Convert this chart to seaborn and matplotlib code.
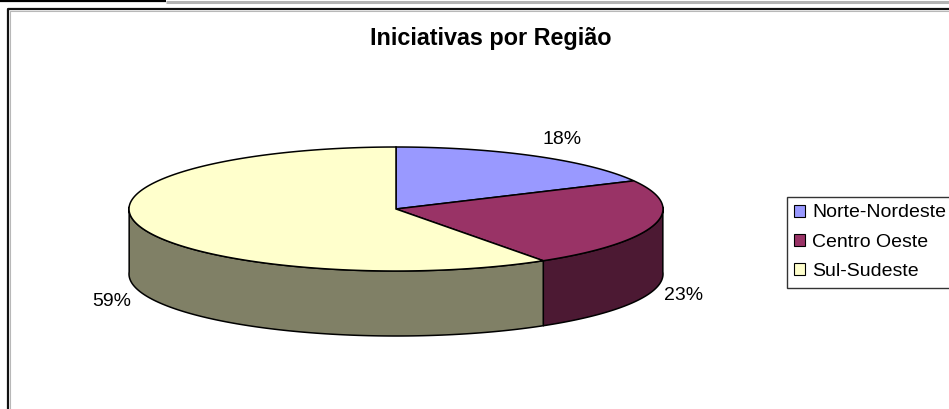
import numpy as np
import pandas as pd
import matplotlib
matplotlib.use("Agg")
import matplotlib.pyplot as plt
from matplotlib.patches import Patch
import seaborn as sns

regions = ["Norte-Nordeste", "Centro Oeste", "Sul-Sudeste"]
shares = [18, 23, 59]
top_colors = ["#9999FF", "#993366", "#FFFFCC"]
side_colors = ["#4C4C80", "#4C1933", "#808066"]

df = pd.DataFrame({"region": regions, "share": shares})

sns.set_theme(style="white")
plt.rcParams["font.family"] = ["Liberation Sans", "DejaVu Sans"]

fig = plt.figure(figsize=(9.49, 4.09), dpi=100)
ax = fig.add_axes([0, 0, 1, 1])
ax.set_xlim(0, 949)
ax.set_ylim(409, 0)
ax.axis("off")

# pie geometry in pixels
cx, cy = 396, 209
rx, ry = 267, 62
depth = 65


def ellipse(a):
    # a is clockwise from 12 o'clock, small skew for the 3d view
    a = a - 0.035 * np.sin(a)
    return cx + rx * np.sin(a), cy - ry * np.cos(a)


edges = np.deg2rad(np.cumsum([0] + list(df["share"])) * 3.6)

# side walls, only the front half of the rim shows
for i in range(len(df)):
    lo, hi = max(edges[i], np.pi / 2), min(edges[i + 1], np.pi * 1.5)
    if lo >= hi:
        continue
    a = np.linspace(lo, hi, 120)
    x, y = ellipse(a)
    ax.fill(np.r_[x, x[::-1]], np.r_[y, y[::-1] + depth],
            facecolor=side_colors[i], edgecolor="black", lw=1.1, zorder=2)

# top faces
for i in range(len(df)):
    a = np.linspace(edges[i], edges[i + 1], 200)
    x, y = ellipse(a)
    ax.fill(np.r_[cx, x], np.r_[cy, y],
            facecolor=top_colors[i], edgecolor="black", lw=1.1, zorder=3)

ax.text(490.5, 39, "Iniciativas por Região", ha="center", va="center",
        fontsize=16.8, fontweight="bold", color="black")

label_pos = [(562, 139), (684, 296), (112, 302)]
for share, (lx, ly) in zip(df["share"], label_pos):
    ax.text(lx, ly, f"{share}%", ha="center", va="center", fontsize=14, color="black")

handles = [Patch(facecolor=c, edgecolor="black", lw=0.8) for c in top_colors]
leg = ax.legend(handles, df["region"], loc="upper left", bbox_to_anchor=(787, 197),
                bbox_transform=ax.transData, fontsize=14, frameon=True, fancybox=False,
                edgecolor="#333333", framealpha=1, borderpad=0.38, labelspacing=0.64,
                handlelength=0.57, handleheight=0.57, handletextpad=0.36, borderaxespad=0,
                labelcolor="black")
leg.get_frame().set_linewidth(1)

# chart frame and the strip along the top edge
ax.plot([949, 8, 8], [9, 9, 409], color="#111111", lw=1.6, solid_capstyle="butt", zorder=5)
ax.plot([949, 10, 10], [11, 11, 409], color="#b8b8b8", lw=0.8, solid_capstyle="butt", zorder=5)
ax.plot([166, 949], [1.5, 1.5], color="#b3b3b3", lw=2.2, solid_capstyle="butt", zorder=5)
ax.plot([0, 166], [1, 1], color="black", lw=1.6, solid_capstyle="butt", zorder=6)

fig.savefig("out.png", dpi=100)
